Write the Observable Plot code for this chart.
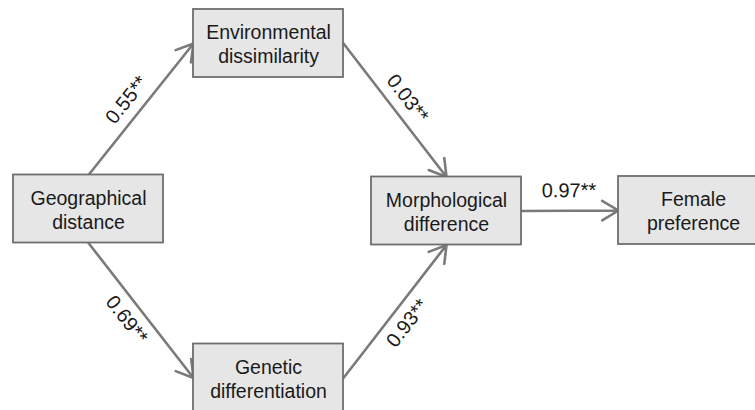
<!DOCTYPE html>
<html>
<head>
<meta charset="utf-8">
<script src="https://cdn.jsdelivr.net/npm/d3@7"></script>
<script src="https://cdn.jsdelivr.net/npm/@observablehq/plot@0.6"></script>
<style>
  html, body { margin: 0; padding: 0; background: #fff; }
</style>
</head>
<body>
<div id="chart"></div>
<script>
// Node labels
const nodeIds = ["geo", "env", "gen", "morph", "female"];
const nodeLabels = [
  "Geographical\ndistance",
  "Environmental\ndissimilarity",
  "Genetic\ndifferentiation",
  "Morphological\ndifference",
  "Female\npreference"
];
// Node layout (diagram units)
const nodeCx = [88, 268, 268, 446, 693];
const nodeCy = [208.5, 43, 377.5, 210.5, 210];
const boxW = 150, boxH = 68;

// Paths and coefficients
const edgeFrom = ["geo", "geo", "env", "gen", "morph"];
const edgeTo   = ["env", "gen", "morph", "morph", "female"];
const edgeFromSide = ["top", "bottom", "right", "right", "right"];
const edgeToSide   = ["left", "left", "top", "bottom", "left"];
const coefficients = [0.55, 0.69, 0.03, 0.93, 0.97];
const significance = ["**", "**", "**", "**", "**"];
const labelSide = [1, -1, 1, -1, 1];

const nodes = nodeIds.map((id, i) => ({
  id, label: nodeLabels[i], cx: nodeCx[i], cy: nodeCy[i],
  x1: nodeCx[i] - boxW / 2, x2: nodeCx[i] + boxW / 2,
  y1: nodeCy[i] - boxH / 2, y2: nodeCy[i] + boxH / 2
}));
const byId = Object.fromEntries(nodes.map(n => [n.id, n]));
function anchor(n, side) {
  if (side === "top") return [n.cx, n.y1];
  if (side === "bottom") return [n.cx, n.y2];
  if (side === "left") return [n.x1, n.cy];
  return [n.x2, n.cy];
}
const edges = edgeFrom.map((f, i) => {
  const [x1, y1] = anchor(byId[f], edgeFromSide[i]);
  const [x2, y2] = anchor(byId[edgeTo[i]], edgeToSide[i]);
  const dx = x2 - x1, dy = y2 - y1, len = Math.hypot(dx, dy);
  const ux = dx / len, uy = dy / len;
  const nx = uy * labelSide[i], ny = -ux * labelSide[i];
  const off = Math.abs(dy) < 1 ? 20 : 17;
  return {
    x1, y1, x2, y2,
    lx: x1 + dx * 0.49 + nx * off,
    ly: y1 + dy * 0.49 + ny * off,
    rot: Math.atan2(dy, dx) * 180 / Math.PI,
    text: coefficients[i].toFixed(2) + significance[i]
  };
});

const W = 755, H = 410;
const chart = Plot.plot({
  width: W, height: H,
  margin: 0,
  x: { domain: [0, W], range: [0, W], axis: null },
  y: { domain: [0, H], range: [0, H], axis: null },
  style: { fontFamily: "'Liberation Sans', Arial, sans-serif", background: "#fff" },
  marks: [
    Plot.arrow(edges, {
      x1: "x1", y1: "y1", x2: "x2", y2: "y2",
      stroke: "#7a7a7a", strokeWidth: 2.6, headLength: 11, headAngle: 62
    }),
    Plot.rect(nodes, {
      x1: "x1", x2: "x2", y1: "y1", y2: "y2",
      fill: "#e6e6e6", stroke: "#6e6e6e", strokeWidth: 1.8
    }),
    Plot.text(nodes, {
      x: "cx", y: "cy", text: "label",
      fontSize: 19.5, lineHeight: 1.23, fill: "#1a1a1a"
    }),
    Plot.text(edges, {
      x: "lx", y: "ly", text: "text", rotate: "rot",
      fontSize: 20, fill: "#1a1a1a"
    })
  ]
});
document.getElementById("chart").appendChild(chart);
</script>
</body>
</html>
